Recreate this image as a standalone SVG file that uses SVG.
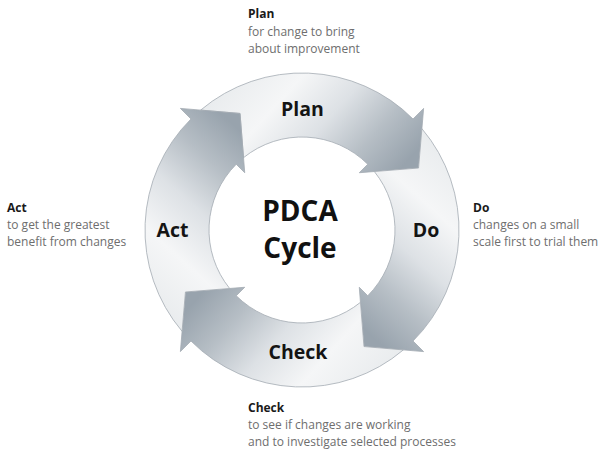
<svg xmlns="http://www.w3.org/2000/svg" xmlns:xlink="http://www.w3.org/1999/xlink" width="603" height="458" viewBox="0 0 603 458">
<style>
.lbl{font-family:"Open Sans","Noto Sans","Liberation Sans",sans-serif;font-weight:bold;font-size:19.5px;fill:#141414;text-anchor:middle}
.big{font-family:"Open Sans","Noto Sans","Liberation Sans",sans-serif;font-weight:bold;font-size:28px;fill:#111;text-anchor:middle}
.t{font-family:"Open Sans","Noto Sans","Liberation Sans",sans-serif;font-weight:bold;font-size:12px;fill:#1a1a1a}
.d{font-family:"Open Sans","Noto Sans","Liberation Sans",sans-serif;font-size:12px;fill:#6e6e6e}
.arr{fill:url(#g);stroke:#a3abb2;stroke-width:0.8;stroke-linejoin:round}
</style>
<defs>
<linearGradient id="g" x1="0" y1="0.3" x2="1" y2="0.7">
<stop offset="0" stop-color="#e8ebed"/>
<stop offset="0.3" stop-color="#f5f6f7"/>
<stop offset="0.55" stop-color="#dde1e5"/>
<stop offset="0.78" stop-color="#b6bec5"/>
<stop offset="1" stop-color="#98a3ad"/>
</linearGradient>
<path id="arrow" class="arr" d="M 200.65 110.10 A 157 157 0 0 1 413.02 118.98 L 423.62 108.38 L 418.55 168.03 L 359.28 172.72 L 367.76 164.24 A 93 93 0 0 0 243.53 157.67 L 240.03 113.45 Z"/>
</defs>
<g id="plan">
<use xlink:href="#arrow"/>
<text class="lbl" x="302.5" y="116">Plan</text>
</g>
<g id="do">
<use xlink:href="#arrow" transform="rotate(90 302 230)"/>
<text class="lbl" x="426" y="237">Do</text>
</g>
<g id="check">
<use xlink:href="#arrow" transform="rotate(180 302 230)"/>
<text class="lbl" x="298" y="359">Check</text>
</g>
<g id="act">
<use xlink:href="#arrow" transform="rotate(270 302 230)"/>
<text class="lbl" x="172.5" y="237">Act</text>
</g>
<g id="center">
<text class="big" x="300" y="221">PDCA</text>
<text class="big" x="300" y="258">Cycle</text>
</g>
<g id="note-plan">
<text class="t" x="248" y="18">Plan</text>
<text class="d" x="248" y="36">for change to bring</text>
<text class="d" x="248" y="53">about improvement</text>
</g>
<g id="note-act">
<text class="t" x="7" y="212">Act</text>
<text class="d" x="7" y="229">to get the greatest</text>
<text class="d" x="7" y="246">benefit from changes</text>
</g>
<g id="note-do">
<text class="t" x="473" y="212">Do</text>
<text class="d" x="473" y="229">changes on a small</text>
<text class="d" x="473" y="246">scale first to trial them</text>
</g>
<g id="note-check">
<text class="t" x="248" y="412">Check</text>
<text class="d" x="248" y="429">to see if changes are working</text>
<text class="d" x="248" y="446">and to investigate selected processes</text>
</g>
</svg>
